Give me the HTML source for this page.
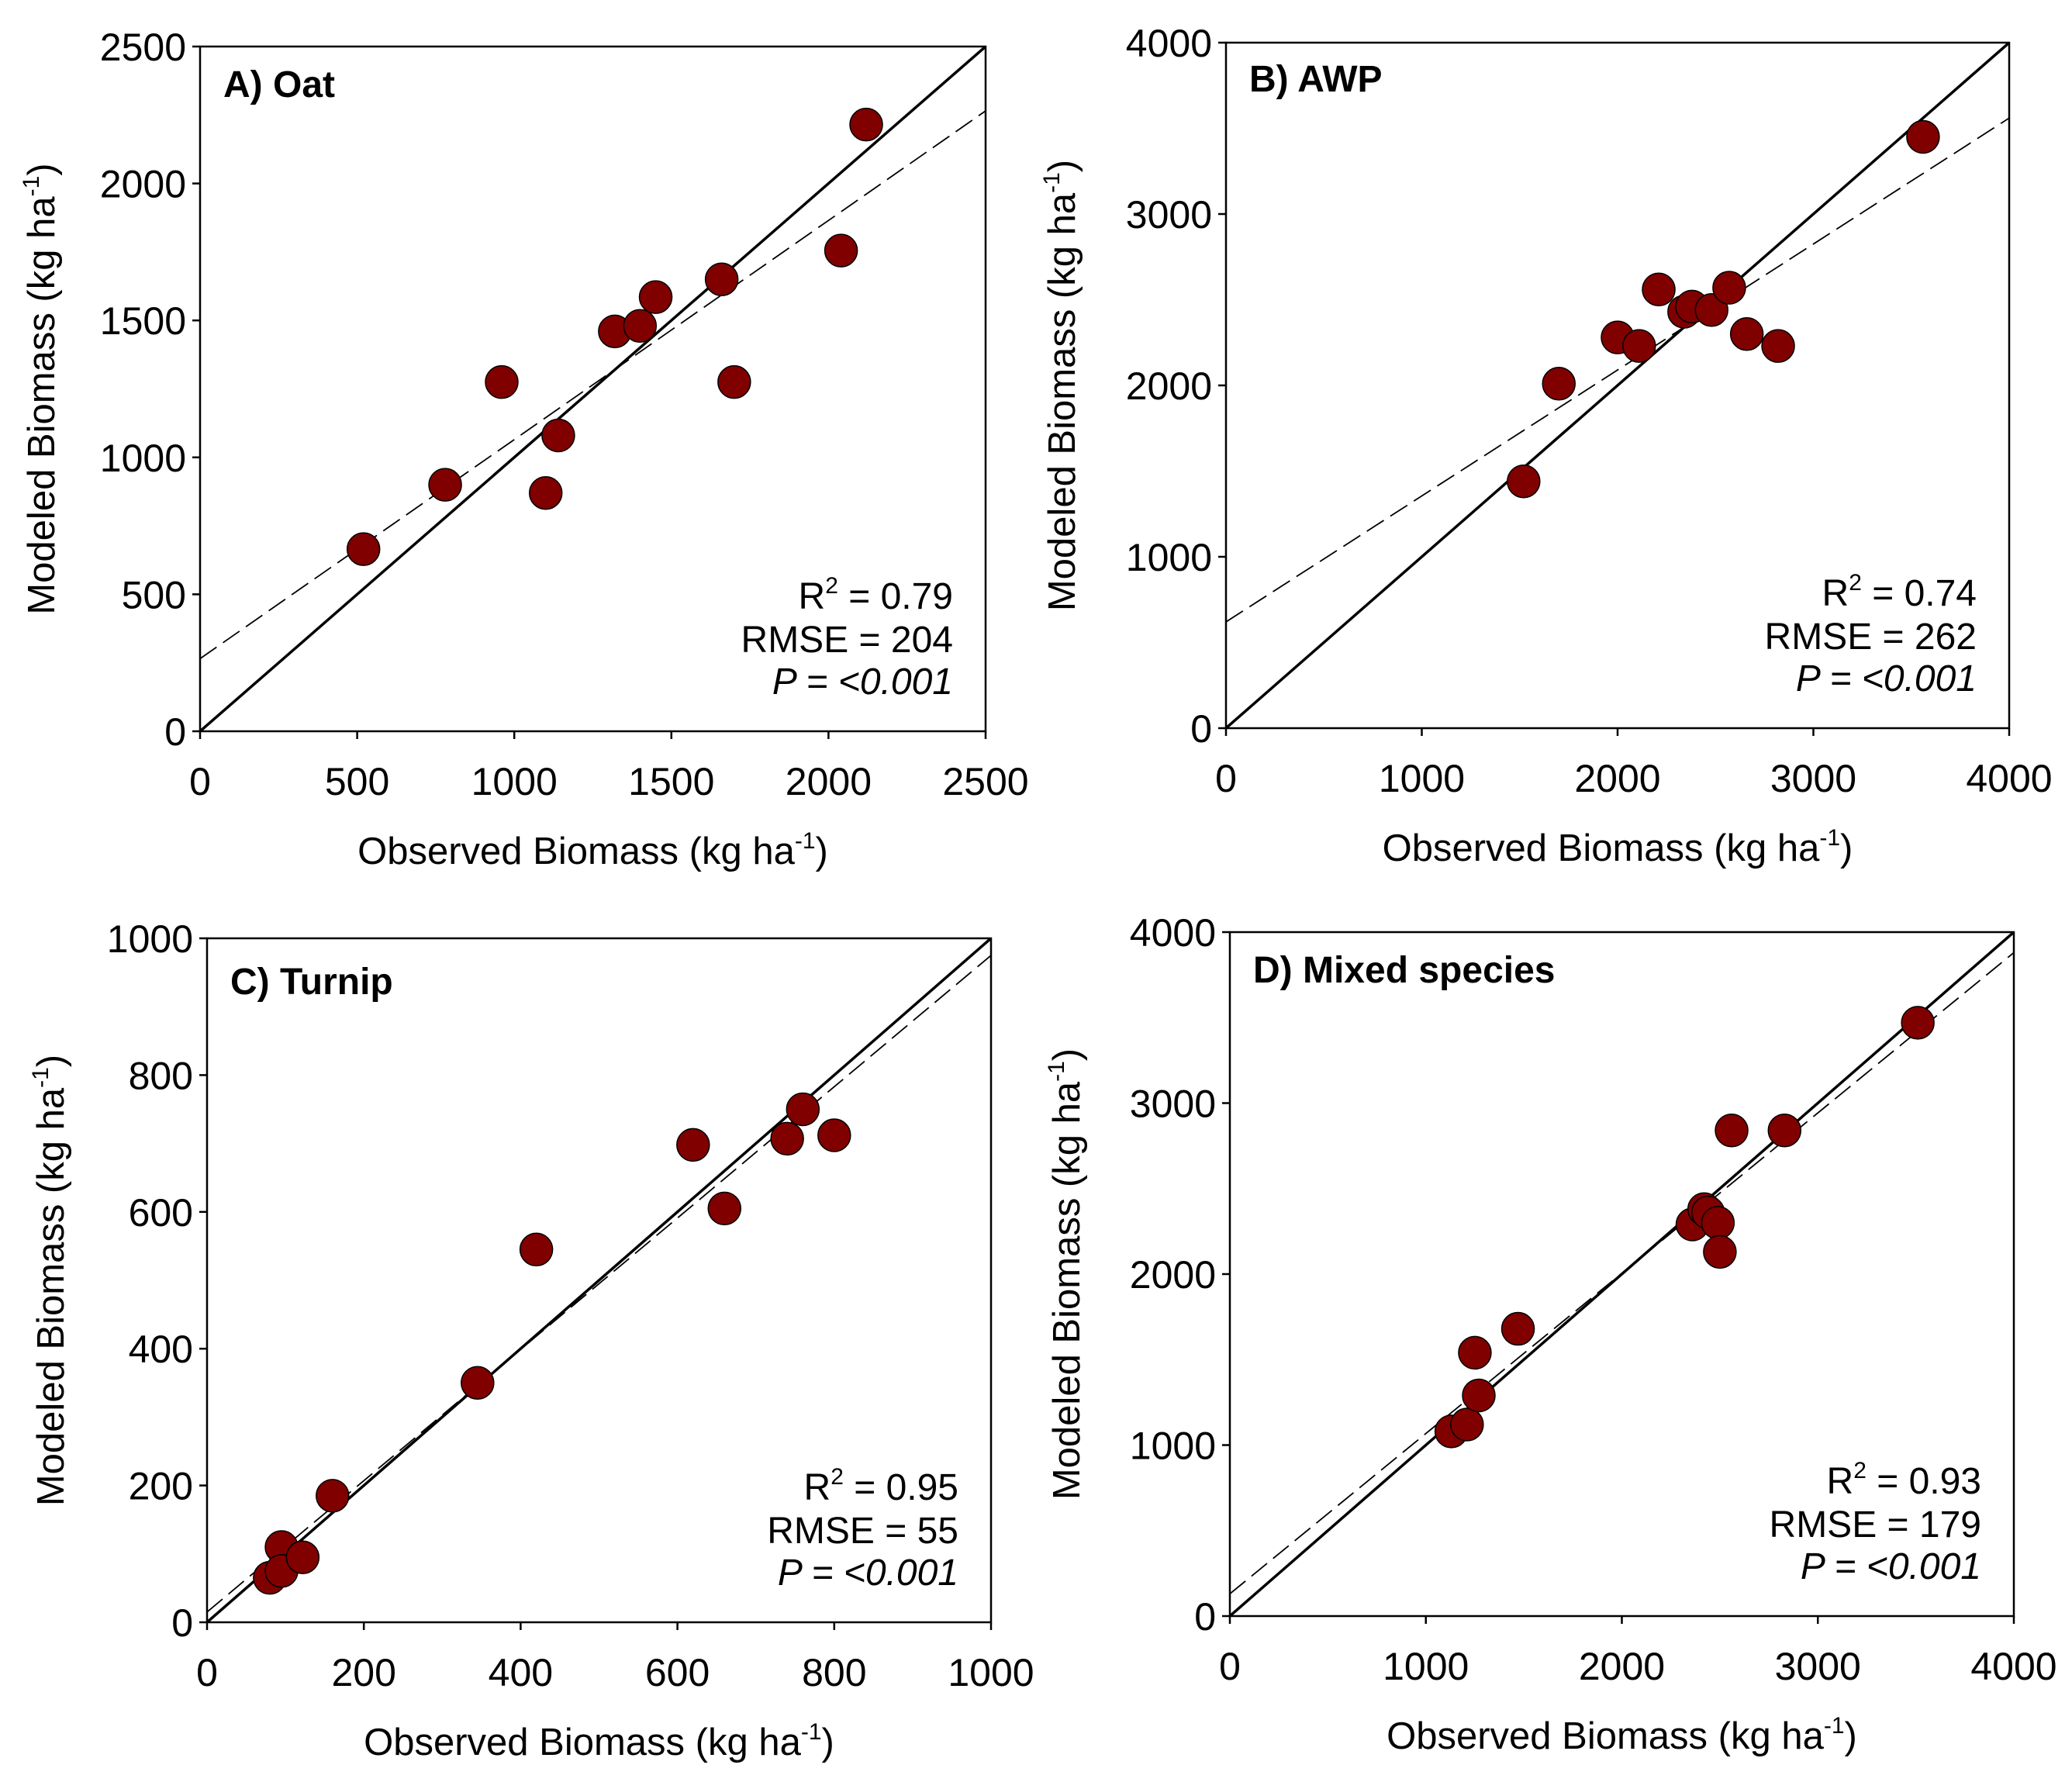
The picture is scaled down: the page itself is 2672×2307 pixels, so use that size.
<!DOCTYPE html>
<html><head><meta charset="utf-8"><style>
html,body{margin:0;padding:0;background:#fff}
svg{display:block}
text{font-family:"Liberation Sans",Arial,sans-serif;fill:#000}
</style></head>
<body>
<svg id="fig" width="2672" height="2307" viewBox="0 0 2672 2307" xmlns="http://www.w3.org/2000/svg"></svg>
<script>
// Panel A data (Oat)
const oatObserved = [520,780,960,1100,1140,1320,1400,1450,1660,1700,2040,2120];
const oatModeled  = [665,900,1275,870,1080,1460,1480,1585,1650,1275,1755,2215];
const oatFit = [265, 0.8];
const oatTicks = [0,500,1000,1500,2000,2500];
const oatStats = ["0.79","204","<0.001"];
// Panel B data (AWP)
const awpObserved = [1520,1700,2000,2110,2210,2340,2380,2480,2570,2660,2820,3560];
const awpModeled  = [1440,2010,2280,2230,2560,2430,2460,2440,2570,2300,2230,3450];
const awpFit = [620, 0.735];
const awpTicks = [0,1000,2000,3000,4000];
const awpStats = ["0.74","262","<0.001"];
// Panel C data (Turnip)
const turnipObserved = [80,95,95,122,160,345,420,620,660,740,760,800];
const turnipModeled  = [65,110,75,95,185,350,545,698,605,707,750,712];
const turnipFit = [15, 0.96];
const turnipTicks = [0,200,400,600,800,1000];
const turnipStats = ["0.95","55","<0.001"];
// Panel D data (Mixed species)
const mixObserved = [1130,1210,1250,1270,1470,2360,2420,2440,2490,2500,2560,2830,3510];
const mixModeled  = [1080,1120,1540,1290,1680,2290,2380,2360,2300,2130,2840,2840,3470];
const mixFit = [130, 0.9375];
const mixTicks = [0,1000,2000,3000,4000];
const mixStats = ["0.93","179","<0.001"];

const NS="http://www.w3.org/2000/svg";
const svg=document.getElementById('fig');
function mk(tag,attrs,parent){const e=document.createElementNS(NS,tag);for(const k in attrs)e.setAttribute(k,attrs[k]);(parent||svg).appendChild(e);return e;}

function panel(cfg){
  const g=mk('g',{});
  
  
  const max=cfg.ticks[cfg.ticks.length-1];
  const sx=v=>cfg.L+(cfg.R-cfg.L)*v/max;
  const sy=v=>cfg.B-(cfg.B-cfg.T)*v/max;
  const frame=mk('rect',{x:cfg.L,y:cfg.T,width:cfg.R-cfg.L,height:cfg.B-cfg.T,fill:'none',stroke:'#000','stroke-width':2.5},g);
  
  
  cfg.ticks.forEach(t=>{
    mk('line',{x1:sx(t),x2:sx(t),y1:cfg.B,y2:cfg.B+10,stroke:'#000','stroke-width':2.5},g);
    mk('line',{x1:cfg.L-10,x2:cfg.L,y1:sy(t),y2:sy(t),stroke:'#000','stroke-width':2.5},g);
    const xl=mk('text',{x:sx(t),y:cfg.B+82,'font-size':50,'text-anchor':'middle'},g);
    xl.textContent=t;
    
    
    const yl=mk('text',{x:cfg.L-18,y:sy(t)+18,'font-size':50,'text-anchor':'end'},g);
    yl.textContent=t;
    
    
  });
  const cid='clip-'+cfg.key;
  const cp=mk('clipPath',{id:cid},g);
  mk('rect',{x:cfg.L,y:cfg.T,width:cfg.R-cfg.L,height:cfg.B-cfg.T},cp);
  const one=mk('line',{x1:sx(0),y1:sy(0),x2:sx(max),y2:sy(max),stroke:'#000','stroke-width':3.5,'clip-path':'url(#'+cid+')'},g);
  
  
  const fit=mk('line',{x1:sx(0),y1:sy(cfg.fit[0]),x2:sx(max),y2:sy(cfg.fit[0]+cfg.fit[1]*max),stroke:'#000','stroke-width':1.8,'stroke-dasharray':'26,10','clip-path':'url(#'+cid+')'},g);
  
  
  cfg.xs.forEach((v,i)=>{
    const c=mk('circle',{cx:sx(v),cy:sy(cfg.ys[i]),r:21,fill:'#800000',stroke:'#000','stroke-width':1.5},g);
    
    
  });
  const ti=mk('text',{x:cfg.L+30,y:cfg.titleY,'font-size':48,'font-weight':'bold'},g);
  ti.textContent=cfg.title;
  
  
  const rx=cfg.R-42;
  const s1=mk('text',{x:rx,y:cfg.B-158,'font-size':48,'text-anchor':'end'},g);
  s1.innerHTML='R<tspan dy="-20" font-size="30">2</tspan><tspan dy="20"> = '+cfg.stats[0]+'</tspan>';
  
  
  const s2=mk('text',{x:rx,y:cfg.B-102,'font-size':48,'text-anchor':'end'},g);
  s2.textContent='RMSE = '+cfg.stats[1];
  
  
  const s3=mk('text',{x:rx,y:cfg.B-48,'font-size':48,'text-anchor':'end','font-style':'italic'},g);
  s3.textContent='P = '+cfg.stats[2];
  
  
  const xt=mk('text',{x:(cfg.L+cfg.R)/2,y:cfg.B+171,'font-size':49,'text-anchor':'middle'},g);
  xt.innerHTML='Observed Biomass (kg ha<tspan dy="-20" font-size="30">-1</tspan><tspan dy="20">)</tspan>';
  
  
  const cy=(cfg.T+cfg.B)/2;
  const yt=mk('text',{x:cfg.ytx,y:cy,'font-size':49,'text-anchor':'middle',transform:'rotate(-90 '+cfg.ytx+' '+cy+')'},g);
  yt.innerHTML='Modeled Biomass (kg ha<tspan dy="-20" font-size="30">-1</tspan><tspan dy="20">)</tspan>';
  
  
}
panel({key:'oat',title:'A) Oat',L:258,R:1271,T:60,B:943,titleY:125,ytx:70,ticks:oatTicks,xs:oatObserved,ys:oatModeled,fit:oatFit,stats:oatStats});
panel({key:'awp',title:'B) AWP',L:1581,R:2591,T:55,B:939,titleY:118,ytx:1386,ticks:awpTicks,xs:awpObserved,ys:awpModeled,fit:awpFit,stats:awpStats});
panel({key:'turnip',title:'C) Turnip',L:267,R:1278,T:1210,B:2092,titleY:1282,ytx:82,ticks:turnipTicks,xs:turnipObserved,ys:turnipModeled,fit:turnipFit,stats:turnipStats});
panel({key:'mixed',title:'D) Mixed species',L:1586,R:2597,T:1202,B:2084,titleY:1267,ytx:1392,ticks:mixTicks,xs:mixObserved,ys:mixModeled,fit:mixFit,stats:mixStats});
</script>
</body></html>
